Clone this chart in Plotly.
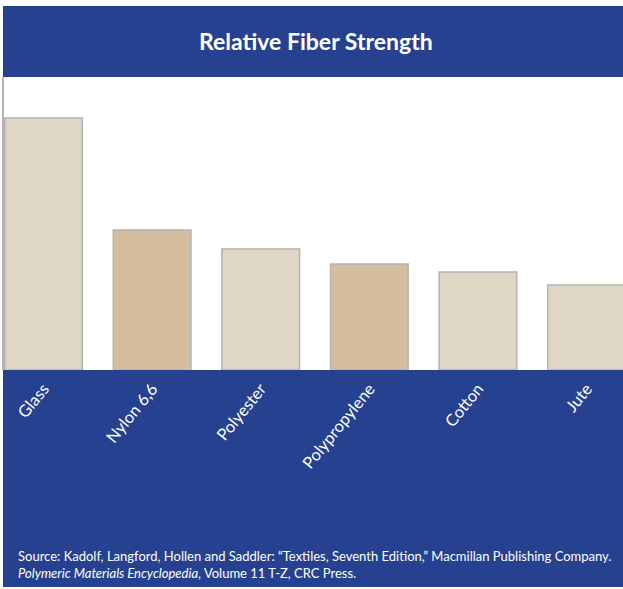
import plotly.graph_objects as go

categories = ["Glass", "Nylon 6,6", "Polyester", "Polypropylene", "Cotton", "Jute"]
strength = [100, 55.6, 48.0, 42.1, 38.9, 33.7]
bar_colors = ["#DFD6C6", "#D5BEA0", "#DFD6C6", "#D5BEA0", "#DFD6C6", "#DFD6C6"]

title_text = "Relative Fiber Strength"
source_text = ("Source: Kadolf, Langford, Hollen and Saddler: \u201cTextiles, Seventh Edition,\u201d Macmillan Publishing Company.<br>"
               "<i>Polymeric Materials Encyclopedia</i>, Volume 11 T-Z, CRC Press.")

BLUE = "#26418F"
FONT = "Lato, Roboto, Liberation Sans, sans-serif"

fig = go.Figure(go.Bar(
    x=list(range(len(categories))),
    y=strength,
    width=0.715,
    marker=dict(color=bar_colors, line=dict(color="#B3B3B3", width=1.5)),
))

W, H = 623, 589
L, R, T, B = 4, 623, 77, 370
pw, ph = R - L, B - T

def px(x):
    return (x - L) / pw

def py(y):
    return (B - y) / ph

fig.update_layout(
    width=W, height=H,
    margin=dict(l=L, r=W - R, t=T, b=H - B, pad=0),
    paper_bgcolor="white", plot_bgcolor="white",
    showlegend=False,
    bargap=0.285,
    xaxis=dict(
        tickmode="array", tickvals=list(range(len(categories))), ticktext=categories,
        range=[-0.364, 5.336], tickangle=-51, showgrid=False, zeroline=False,
        showline=False, ticks="", ticklabelstandoff=5,
        tickfont=dict(family=FONT, size=16.5, color="white"),
    ),
    yaxis=dict(
        range=[0, 116.3], showgrid=False, zeroline=False, showticklabels=False,
        showline=True, linecolor="#B3B3B3", linewidth=1.5, ticks="",
    ),
    shapes=[
        dict(type="rect", xref="paper", yref="paper", x0=px(3), x1=px(623), y0=py(77), y1=py(6),
             fillcolor=BLUE, line=dict(width=0), layer="below"),
        dict(type="rect", xref="paper", yref="paper", x0=px(3), x1=px(623), y0=py(587), y1=py(370),
             fillcolor=BLUE, line=dict(width=0), layer="below"),
    ],
    annotations=[
        dict(text="<b>" + title_text + "</b>", xref="paper", yref="paper", x=px(316), y=py(41),
             xanchor="center", yanchor="middle", showarrow=False,
             font=dict(family=FONT, size=23, color="white")),
        dict(text=source_text, xref="paper", yref="paper", x=px(16), y=py(546),
             xanchor="left", yanchor="top", align="left", showarrow=False,
             font=dict(family=FONT, size=13, color="white")),
    ],
)

fig.write_html("out.html")
